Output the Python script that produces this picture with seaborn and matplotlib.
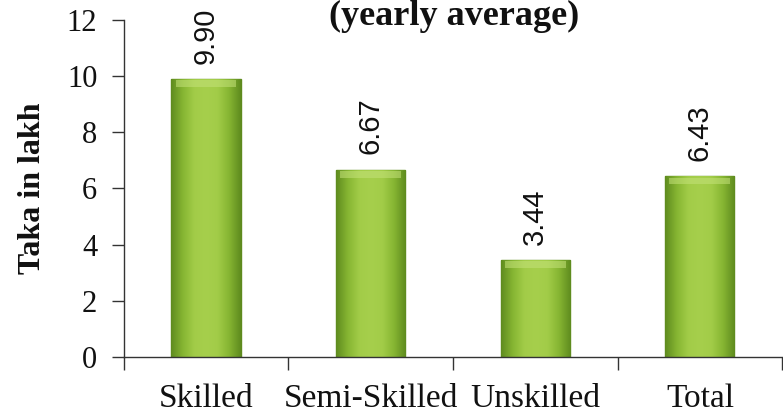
import numpy as np
import pandas as pd
import matplotlib
matplotlib.use("Agg")
import matplotlib.pyplot as plt
import seaborn as sns
from matplotlib.colors import LinearSegmentedColormap

categories = ["Skilled", "Semi-Skilled", "Unskilled", "Total"]
values = [9.90, 6.67, 3.44, 6.43]
value_labels = ["9.90", "6.67", "3.44", "6.43"]
yticks = [0, 2, 4, 6, 8, 10, 12]

sns.set_theme(style="white")
plt.rcParams["font.family"] = ["Liberation Serif", "DejaVu Serif"]

fig = plt.figure(figsize=(7.83, 4.17), dpi=100)
ax = fig.add_axes([0.158, 0.144, 0.841, 0.808])

df = pd.DataFrame({"cat": categories, "val": values})
sns.barplot(data=df, x="cat", y="val", ax=ax, width=0.42,
            color="#92C13C", edgecolor="#5E8A1E", linewidth=1.0, saturation=1)

# gradient shading clipped to each bar
cmap = LinearSegmentedColormap.from_list(
    "g", ["#5F8C1F", "#86B532", "#A2CC48", "#A6CF4C", "#A2CC48", "#86B532", "#5F8C1F"])
prof = np.linspace(0, 1, 200)[None, :].repeat(50, axis=0)
for p in ax.patches:
    x0, y0 = p.get_x(), p.get_y()
    w, h = p.get_width(), p.get_height()
    im = ax.imshow(prof, cmap=cmap, aspect="auto",
                   extent=[x0, x0 + w, y0, y0 + h], zorder=p.get_zorder() + 0.1)
    im.set_clip_path(p)
    # top highlight
    ax.fill_between([x0 + w * 0.06, x0 + w * 0.94], y0 + h - 0.28, y0 + h - 0.04,
                    color="#C4E27A", alpha=0.55, zorder=p.get_zorder() + 0.2, lw=0)

for i, (v, lab) in enumerate(zip(values, value_labels)):
    ax.annotate(lab, (i, v), xytext=(0, 11), textcoords="offset points",
                ha="center", va="bottom", rotation=90, fontsize=21,
                family=["Liberation Sans", "DejaVu Sans"], color="#111111")

ax.set_xlim(-0.5, 3.5)
ax.set_ylim(0, 12)
ax.set_yticks(yticks)
ax.set_yticklabels([str(t) for t in yticks], fontsize=22, color="#111111")
ax.set_xticks(range(len(categories)))
ax.set_xticklabels(categories, fontsize=24, color="#111111")
ax.set_xticks([-0.5, 0.5, 1.5, 2.5, 3.5], minor=True)
ax.tick_params(axis="x", which="major", length=0, pad=19)
ax.tick_params(axis="x", which="minor", length=9, width=1, color="#333333", direction="out", bottom=True)
ax.tick_params(axis="y", which="major", length=9, width=1, color="#333333", direction="out", pad=10, left=True)

ax.set_xlabel("")
ax.set_ylabel("Taka in lakh", fontsize=23, fontweight="bold", color="#111111", labelpad=14)

for s in ["top", "right"]:
    ax.spines[s].set_visible(False)
for s in ["left", "bottom"]:
    ax.spines[s].set_color("#333333")
    ax.spines[s].set_linewidth(1.0)

fig.text(0.58, 0.999, "(yearly average)", ha="center", va="top",
         fontsize=26, fontweight="bold", color="#111111")

fig.savefig("out.png", dpi=100)
